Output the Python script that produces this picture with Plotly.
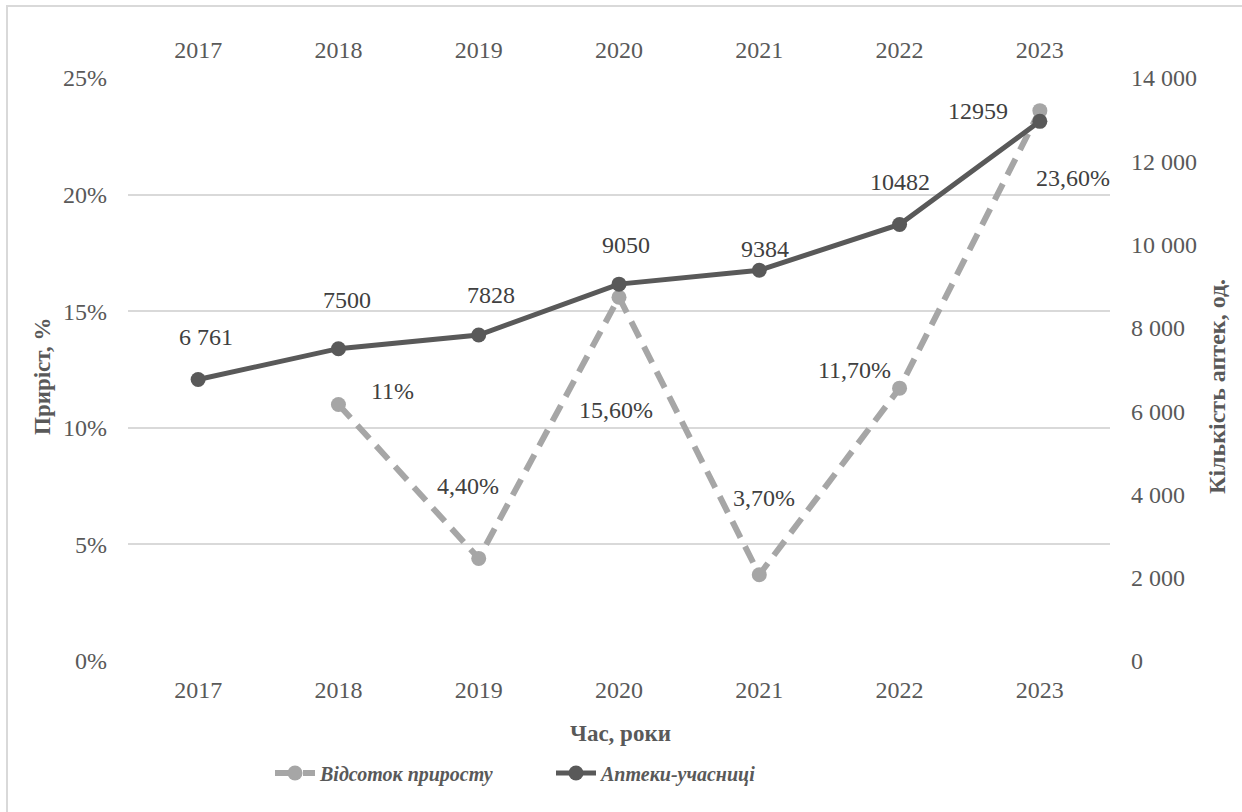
import plotly.graph_objects as go

years = ["2017", "2018", "2019", "2020", "2021", "2022", "2023"]
growth_pct = [None, 11.0, 4.4, 15.6, 3.7, 11.7, 23.6]
growth_labels = [None, "11%", "4,40%", "15,60%", "3,70%", "11,70%", "23,60%"]
pharmacies = [6761, 7500, 7828, 9050, 9384, 10482, 12959]
pharmacy_labels = ["6 761", "7500", "7828", "9050", "9384", "10482", "12959"]
pct_ticks = [0, 5, 10, 15, 20, 25]
pct_ticktext = ["0%", "5%", "10%", "15%", "20%", "25%"]
count_ticks = [0, 2000, 4000, 6000, 8000, 10000, 12000, 14000]

# label offsets (px) relative to their points
growth_off = [None, (54, -13), (-11, -72), (-3, 113), (5, -77), (-45, -18), (33, 67)]
pharm_off = [(8, -42), (9, -49), (12, -40), (7, -39), (6, -21), (0, -43), (-62, -10)]

FONT = "Liberation Serif, Times New Roman, serif"
TICK = "#595959"
LBL = "#404040"
W, H = 1242, 812
L, R, T, B = 128, 132, 78, 151
PW, PH = W - L - R, H - T - B

fig = go.Figure()
fig.add_trace(go.Scatter(
    x=years, y=growth_pct, name="Відсоток приросту",
    mode="lines+markers",
    line=dict(color="#A6A6A6", width=6, dash="18px,10px"),
    marker=dict(color="#A6A6A6", size=15),
    xaxis="x", yaxis="y",
))
fig.add_trace(go.Scatter(
    x=years, y=pharmacies, name="Аптеки-учасниці",
    mode="lines+markers",
    line=dict(color="#595959", width=5),
    marker=dict(color="#595959", size=15),
    xaxis="x2", yaxis="y2",
))

ann = []
for i, (v, t, o) in enumerate(zip(growth_pct, growth_labels, growth_off)):
    if v is None:
        continue
    ann.append(dict(x=i, y=v, xref="x", yref="y", text=t, showarrow=False,
                    xanchor="center", yanchor="middle",
                    xshift=o[0], yshift=-o[1],
                    font=dict(family=FONT, size=24, color=LBL)))
for i, (v, t, o) in enumerate(zip(pharmacies, pharmacy_labels, pharm_off)):
    ann.append(dict(x=i, y=v, xref="x2", yref="y2", text=t, showarrow=False,
                    xanchor="center", yanchor="middle",
                    xshift=o[0], yshift=-o[1],
                    font=dict(family=FONT, size=24, color=LBL)))

# axis titles
ann.append(dict(x=(43 - L) / PW, y=(H - B - 377) / PH, xref="paper", yref="paper",
                xanchor="center", yanchor="middle",
                text="<b>Приріст, %</b>", textangle=-90, showarrow=False,
                font=dict(family=FONT, size=23, color=TICK)))
ann.append(dict(x=(1217 - L) / PW, y=(H - B - 387) / PH, xref="paper", yref="paper",
                xanchor="center", yanchor="middle",
                text="<b>Кількість аптек, од.</b>", textangle=-90, showarrow=False,
                font=dict(family=FONT, size=24, color=TICK)))
ann.append(dict(x=(620 - L) / PW, y=(H - B - 733) / PH, xref="paper", yref="paper",
                xanchor="center", yanchor="middle",
                text="<b>Час, роки</b>", showarrow=False,
                font=dict(family=FONT, size=23, color=TICK)))

tickfont = dict(family=FONT, size=24, color=TICK)
fig.update_layout(
    width=W, height=H,
    margin=dict(l=L, r=R, t=T, b=B, autoexpand=False),
    paper_bgcolor="white", plot_bgcolor="white",
    separators=", ",
    font=dict(family=FONT, color=TICK),
    showlegend=True,
    legend=dict(orientation="h", x=(270 - L) / PW, xanchor="left", y=(H - B - 773) / PH,
                yanchor="middle",
                font=dict(family=FONT, size=20, color=TICK, weight="bold", style="italic"),
                itemwidth=40, traceorder="normal",
                entrywidthmode="pixels", entrywidth=226),
    xaxis=dict(type="category", categoryorder="array", categoryarray=years,
               range=[-0.5, 6.5], showgrid=False, zeroline=False, showline=False,
               ticks="", tickfont=tickfont, ticklabelstandoff=12),
    xaxis2=dict(type="category", categoryorder="array", categoryarray=years,
                range=[-0.5, 6.5], overlaying="x", side="top", anchor="y2",
                showgrid=False, zeroline=False, showline=False,
                ticks="", tickfont=tickfont, ticklabelstandoff=14),
    yaxis=dict(range=[0, 25], tickmode="array", tickvals=pct_ticks, ticktext=pct_ticktext,
               showgrid=True, gridcolor="#D9D9D9", gridwidth=2,
               zeroline=False, showline=False, ticks="", tickfont=tickfont,
               ticklabelstandoff=20),
    yaxis2=dict(range=[0, 14000], tickmode="array", tickvals=count_ticks,
                tickformat=",d", overlaying="y", side="right", anchor="x2",
                showgrid=False, zeroline=False, showline=False, ticks="",
                tickfont=tickfont, ticklabelstandoff=20),
    annotations=ann,
    shapes=[dict(type="rect", xref="paper", yref="paper",
                 x0=(7 - L) / PW, x1=(1250 - L) / PW,
                 y0=(H - B - 820) / PH, y1=(H - B - 6) / PH,
                 line=dict(color="#D9D9D9", width=2), fillcolor="rgba(0,0,0,0)",
                 layer="below")],
)

fig.write_html("out.html")
